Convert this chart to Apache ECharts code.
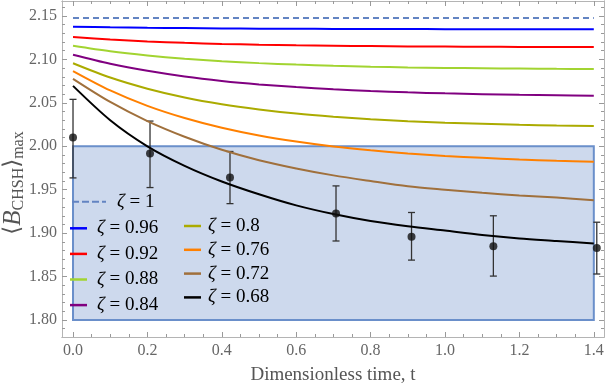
<!DOCTYPE html>
<html>
<head>
<meta charset="utf-8">
<script src="https://cdn.jsdelivr.net/npm/echarts@6/dist/echarts.min.js"></script>
<style>
html, body { margin: 0; padding: 0; background: #fff; }
#chart-container { width: 608px; height: 386px; }
</style>
</head>
<body>
<div id="chart-container"></div>
<script>
// curve sample times (dimensionless time t)
var times = [0, 0.1, 0.2, 0.3, 0.4, 0.5, 0.6, 0.7, 0.8, 0.9, 1.0, 1.1, 1.2, 1.3, 1.4];

// <B_CHSH>_max for each zeta
var z100T = [0, 1.4];
var z100 = [2.1475, 2.1475];
var z096 = [2.1377, 2.1370, 2.1364, 2.1360, 2.1356, 2.1354, 2.1352, 2.1351, 2.1350, 2.1349, 2.1348, 2.1348, 2.1347, 2.1347, 2.1347];
var z092 = [2.1258, 2.1229, 2.1207, 2.1191, 2.1178, 2.1169, 2.1162, 2.1157, 2.1153, 2.1149, 2.1147, 2.1145, 2.1144, 2.1143, 2.1142];
var z088 = [2.1157, 2.1094, 2.1046, 2.1008, 2.0979, 2.0957, 2.0940, 2.0927, 2.0916, 2.0908, 2.0902, 2.0898, 2.0894, 2.0891, 2.0889];
var z084 = [2.1054, 2.0950, 2.0868, 2.0803, 2.0752, 2.0712, 2.0681, 2.0656, 2.0637, 2.0621, 2.0609, 2.0600, 2.0592, 2.0587, 2.0582];
var z080 = [2.0956, 2.0791, 2.0663, 2.0562, 2.0484, 2.0424, 2.0376, 2.0340, 2.0311, 2.0288, 2.0271, 2.0258, 2.0247, 2.0239, 2.0232];
var z076 = [2.0866, 2.0643, 2.0465, 2.0325, 2.0213, 2.0124, 2.0054, 1.9997, 1.9953, 1.9917, 1.9889, 1.9867, 1.9848, 1.9834, 1.9823];
var z072 = [2.0776, 2.0510, 2.0290, 2.0110, 1.9960, 1.9840, 1.9745, 1.9665, 1.9600, 1.9540, 1.9500, 1.9464, 1.9434, 1.9410, 1.9380];
var z068 = [2.0695, 2.0300, 2.0000, 1.9775, 1.9595, 1.9448, 1.9320, 1.9220, 1.9140, 1.9080, 1.9030, 1.8980, 1.8940, 1.8910, 1.8880];

// measured points with error bars
var errT = [0, 0.207, 0.422, 0.707, 0.910, 1.130, 1.408];
var errMean = [2.010, 1.9916, 1.964, 1.9226, 1.8958, 1.885, 1.883];
var errLo = [1.9636, 1.9525, 1.934, 1.891, 1.869, 1.8506, 1.853];
var errHi = [2.054, 2.029, 1.994, 1.9544, 1.9238, 1.920, 1.9126];

// classical bound region
var boxT = [0, 1.4];
var boxB = [1.80, 2.00];

// tick labels
var xMajor = [0, 0.2, 0.4, 0.6, 0.8, 1.0, 1.2, 1.4];
var yMajor = [1.80, 1.85, 1.90, 1.95, 2.00, 2.05, 2.10, 2.15];

var xMinor = [];
for (var i = 0; i <= 28; i++) xMinor.push(+(i * 0.05).toFixed(2));
var yMinor = [];
for (var j = 178; j <= 216; j++) yMinor.push(+(j / 100).toFixed(2));

var X_MIN = -0.0296, X_MAX = 1.4274;
var Y_MIN = 1.7805, Y_MAX = 2.1672;

var serif = 'Liberation Serif';
var frameColor = '#b4b4b4';

// dashed legend swatch for zeta = 1
var dashIcon = 'path://M0,0h7v2h-7z M10,0h7v2h-7z M20,0h7v2h-7z M30,0h4v2h-4z';

function pairs(xs, ys) {
	return xs.map(function (x, k) { return [x, ys[k]]; });
}

function frameAxis(kind, pos, ticks, len, extra) {
	var ax = {
		type: 'value',
		position: pos,
		min: kind === 'x' ? X_MIN : Y_MIN,
		max: kind === 'x' ? X_MAX : Y_MAX,
		axisLine: { show: true, onZero: false, lineStyle: { color: frameColor, width: 1 } },
		axisTick: { show: true, inside: true, length: len, customValues: ticks, lineStyle: { color: '#999' } },
		axisLabel: { show: false },
		splitLine: { show: false }
	};
	return Object.assign(ax, extra || {});
}

var dom = document.getElementById('chart-container');
var myChart = echarts.init(dom, null, { renderer: 'canvas' });

var zetaRich = {
	z: { fontFamily: serif, fontStyle: 'italic', fontSize: 19, color: '#000' },
	t: { fontFamily: serif, fontSize: 19, color: '#000' }
};

function legendFmt(name) {
	return '{z|' + name.slice(0, 1) + '}{t|' + name.slice(1) + '}';
}

function curve(name, data, color, extra) {
	var s = {
		name: name,
		type: 'line',
		data: data,
		symbol: 'none',
		smooth: 0.3,
		z: 2,
		lineStyle: { color: color, width: 2 },
		itemStyle: { color: color },
		emphasis: { disabled: true }
	};
	return Object.assign(s, extra || {});
}

var option = {
	animation: false,
	grid: { left: 62, right: 4, top: 1, bottom: 49, outerBoundsMode: 'none', containLabel: false },
	graphic: [
		{
			// y-axis title, rotated
			type: 'text',
			x: 13,
			y: 183,
			rotation: Math.PI / 2,
			style: {
				text: '{a|⟨}{b|B}{s|CHSH}{a|⟩}{s|max}',
				align: 'center',
				verticalAlign: 'middle',
				rich: {
					a: { fontFamily: 'DejaVu Serif', fontSize: 23, fill: '#555', lineHeight: 28 },
					b: { fontFamily: serif, fontStyle: 'italic', fontSize: 25, fill: '#555', lineHeight: 28 },
					s: { fontFamily: serif, fontSize: 16, fill: '#555', verticalAlign: 'bottom' }
				}
			}
		}
	],
	xAxis: [
		frameAxis('x', 'bottom', xMajor, 5, {
			name: 'Dimensionless time, t',
			nameLocation: 'middle',
			nameGap: 29,
			nameTextStyle: { fontFamily: serif, fontSize: 19, color: '#555' },
			axisLabel: {
				show: true, customValues: xMajor, margin: 6,
				fontFamily: serif, fontSize: 16, color: '#666',
				formatter: function (v) { return v.toFixed(1); }
			}
		}),
		frameAxis('x', 'bottom', xMinor, 3),
		frameAxis('x', 'top', xMajor, 5),
		frameAxis('x', 'top', xMinor, 3)
	],
	yAxis: [
		frameAxis('y', 'left', yMajor, 5, {
			axisLabel: {
				show: true, customValues: yMajor, margin: 5,
				fontFamily: serif, fontSize: 16, color: '#666',
				formatter: function (v) { return v.toFixed(2); }
			}
		}),
		frameAxis('y', 'left', yMinor, 3),
		frameAxis('y', 'right', yMajor, 5),
		frameAxis('y', 'right', yMinor, 3)
	],
	legend: [
		{
			data: ['ζ = 1'],
			left: 72, top: 191.7, padding: 0,
			icon: dashIcon,
			itemWidth: 34, itemHeight: 2,
			formatter: legendFmt,
			textStyle: { lineHeight: 20, padding: [0, 0, 0, 6], rich: zetaRich }
		},
		{
			data: ['ζ = 0.96', 'ζ = 0.92', 'ζ = 0.88', 'ζ = 0.84'],
			orient: 'vertical',
			left: 70, top: 218.3, padding: 0,
			icon: 'rect',
			itemWidth: 17, itemHeight: 2.5, itemGap: 5.6,
			formatter: legendFmt,
			textStyle: { lineHeight: 20, padding: [0, 0, 0, 5], rich: zetaRich }
		},
		{
			data: ['ζ = 0.8', 'ζ = 0.76', 'ζ = 0.72', 'ζ = 0.68'],
			orient: 'vertical',
			left: 184, top: 216, padding: 0,
			icon: 'rect',
			itemWidth: 17, itemHeight: 2.5, itemGap: 3.8,
			formatter: legendFmt,
			textStyle: { lineHeight: 20, padding: [0, 0, 0, 2], rich: zetaRich }
		}
	],
	series: [
		curve('ζ = 1', pairs(z100T, z100), '#6384c2', { lineStyle: { color: '#6384c2', width: 2, type: [6, 4] }, smooth: false }),
		curve('ζ = 0.96', pairs(times, z096), '#0000ff'),
		curve('ζ = 0.92', pairs(times, z092), '#ff0000'),
		curve('ζ = 0.88', pairs(times, z088), '#a2d431'),
		curve('ζ = 0.84', pairs(times, z084), '#800080'),
		curve('ζ = 0.8', pairs(times, z080), '#abab00'),
		curve('ζ = 0.76', pairs(times, z076), '#ff8000'),
		curve('ζ = 0.72', pairs(times, z072), '#a0703c'),
		curve('ζ = 0.68', pairs(times, z068), '#000000'),
		{
			name: 'errors',
			type: 'custom',
			z: 2,
			data: errT.map(function (t, k) { return [t, errLo[k], errHi[k]]; }),
			renderItem: function (params, api) {
				var x = api.value(0);
				var lo = api.coord([x, api.value(1)]);
				var hi = api.coord([x, api.value(2)]);
				var w = 3.5;
				var st = { stroke: '#333', lineWidth: 1.3 };
				return {
					type: 'group',
					children: [
						{ type: 'line', shape: { x1: lo[0], y1: lo[1], x2: hi[0], y2: hi[1] }, style: st },
						{ type: 'line', shape: { x1: lo[0] - w, y1: lo[1], x2: lo[0] + w, y2: lo[1] }, style: st },
						{ type: 'line', shape: { x1: hi[0] - w, y1: hi[1], x2: hi[0] + w, y2: hi[1] }, style: st }
					]
				};
			}
		},
		{
			name: 'points',
			type: 'scatter',
			z: 2,
			symbolSize: 8,
			itemStyle: { color: '#111' },
			data: pairs(errT, errMean)
		},
		{
			name: 'bound',
			type: 'line',
			data: [],
			z: 3,
			markArea: {
				silent: true,
				itemStyle: {
					color: 'rgba(98,138,200,0.32)',
					borderColor: '#6a8fca',
					borderWidth: 2
				},
				data: [[{ coord: [boxT[0], boxB[0]] }, { coord: [boxT[1], boxB[1]] }]]
			}
		}
	]
};

myChart.setOption(option);
window.addEventListener('resize', myChart.resize);
</script>
</body>
</html>
